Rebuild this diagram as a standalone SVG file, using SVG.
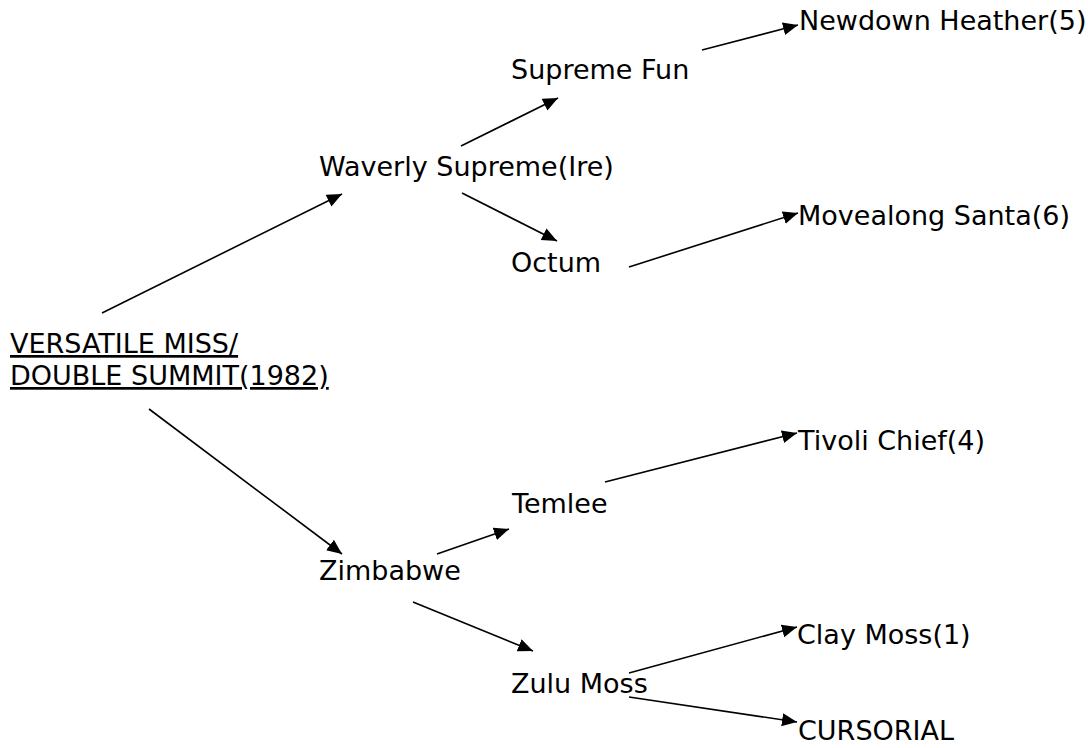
<svg xmlns="http://www.w3.org/2000/svg" width="1088" height="748" viewBox="0 0 1088 748">
<style>
text{font-family:"DejaVu Sans","Liberation Sans",sans-serif;font-size:27px;fill:#000}
.u{text-decoration:underline}
#connectors line{stroke:#000;stroke-width:1.6;marker-end:url(#ah)}
</style>
<defs>
<marker id="ah" markerUnits="userSpaceOnUse" markerWidth="16" markerHeight="14" refX="15" refY="6.5" orient="auto">
<path d="M0,0 L15,6.5 L0,13 z" fill="#000"/>
</marker>
</defs>
<rect width="1088" height="748" fill="#fff"/>
<g id="connectors">
<line x1="102" y1="313" x2="342" y2="194"/>
<line x1="461" y1="146" x2="558" y2="98"/>
<line x1="702" y1="50" x2="798" y2="25"/>
<line x1="462" y1="193" x2="557" y2="241"/>
<line x1="629" y1="267" x2="798" y2="213"/>
<line x1="149" y1="409" x2="342" y2="554"/>
<line x1="437" y1="554" x2="509" y2="529"/>
<line x1="605" y1="482" x2="797" y2="433"/>
<line x1="413" y1="602" x2="533" y2="651"/>
<line x1="629" y1="673" x2="797" y2="627"/>
<line x1="629" y1="697" x2="797" y2="722"/>
</g>
<g id="n-root"><text class="u" x="10" y="353">VERSATILE MISS/</text><text class="u" x="10" y="385">DOUBLE SUMMIT(1982)</text></g>
<g id="n-waverly"><text x="319" y="176">Waverly Supreme(Ire)</text></g>
<g id="n-supremefun"><text x="511" y="79">Supreme Fun</text></g>
<g id="n-newdown"><text x="799" y="30">Newdown Heather(5)</text></g>
<g id="n-octum"><text x="511" y="272">Octum</text></g>
<g id="n-movealong"><text x="798" y="225">Movealong Santa(6)</text></g>
<g id="n-zimbabwe"><text x="319" y="580">Zimbabwe</text></g>
<g id="n-temlee"><text x="512" y="513">Temlee</text></g>
<g id="n-tivoli"><text x="798" y="450">Tivoli Chief(4)</text></g>
<g id="n-zulumoss"><text x="511" y="693">Zulu Moss</text></g>
<g id="n-claymoss"><text x="797" y="644">Clay Moss(1)</text></g>
<g id="n-cursorial"><text x="798" y="740">CURSORIAL</text></g>
</svg>
